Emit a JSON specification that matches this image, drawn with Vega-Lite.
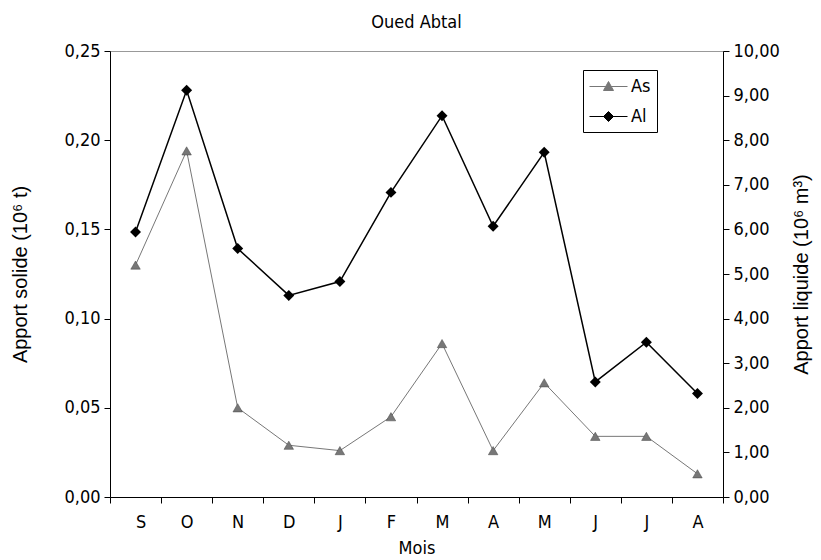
{
  "$schema": "https://vega.github.io/schema/vega-lite/v6.json",
  "width": 613,
  "height": 446,
  "autosize": {"type": "none"},
  "padding": {"left": 110, "top": 51, "right": 98, "bottom": 63},
  "background": "white",
  "title": {"text": "Oued Abtal", "fontSize": 18, "font": "Liberation Sans Narrow, DejaVu Sans Condensed, Roboto, sans-serif", "fontWeight": "normal", "color": "black", "offset": 10},
  "config": {
    "view": {"stroke": "#999", "strokeWidth": 1},
    "axis": {"domainColor": "black", "tickColor": "black", "labelColor": "black", "titleColor": "black", "grid": false, "labelFont": "Liberation Sans Narrow, DejaVu Sans Condensed, Roboto, sans-serif", "labelFontSize": 18, "titleFont": "Liberation Sans, Arial, sans-serif", "titleFontWeight": "normal", "titleFontSize": 20, "tickSize": 6, "domainWidth": 1}
  },
  "data": {"values": [
    {"i": 0, "mois": "S", "serie": "As", "v": 0.130},
    {"i": 1, "mois": "O", "serie": "As", "v": 0.194},
    {"i": 2, "mois": "N", "serie": "As", "v": 0.050},
    {"i": 3, "mois": "D", "serie": "As", "v": 0.029},
    {"i": 4, "mois": "J", "serie": "As", "v": 0.026},
    {"i": 5, "mois": "F", "serie": "As", "v": 0.045},
    {"i": 6, "mois": "M", "serie": "As", "v": 0.086},
    {"i": 7, "mois": "A", "serie": "As", "v": 0.026},
    {"i": 8, "mois": "M", "serie": "As", "v": 0.064},
    {"i": 9, "mois": "J", "serie": "As", "v": 0.034},
    {"i": 10, "mois": "J", "serie": "As", "v": 0.034},
    {"i": 11, "mois": "A", "serie": "As", "v": 0.013},
    {"i": 0, "mois": "S", "serie": "Al", "v": 5.94},
    {"i": 1, "mois": "O", "serie": "Al", "v": 9.12},
    {"i": 2, "mois": "N", "serie": "Al", "v": 5.57},
    {"i": 3, "mois": "D", "serie": "Al", "v": 4.52},
    {"i": 4, "mois": "J", "serie": "Al", "v": 4.83},
    {"i": 5, "mois": "F", "serie": "Al", "v": 6.83},
    {"i": 6, "mois": "M", "serie": "Al", "v": 8.55},
    {"i": 7, "mois": "A", "serie": "Al", "v": 6.07},
    {"i": 8, "mois": "M", "serie": "Al", "v": 7.73},
    {"i": 9, "mois": "J", "serie": "Al", "v": 2.58},
    {"i": 10, "mois": "J", "serie": "Al", "v": 3.47},
    {"i": 11, "mois": "A", "serie": "Al", "v": 2.32}
  ]},
  "layer": [
    {
      "transform": [{"filter": "datum.serie === 'As'"}],
      "encoding": {
        "x": {"field": "i", "type": "quantitative", "scale": {"domain": [-0.5, 11.5], "nice": false, "zero": false},
          "axis": {"title": "Mois", "titleFont": "Liberation Sans Narrow, DejaVu Sans Condensed, Roboto, sans-serif", "titleFontSize": 18, "values": [-0.5, 0.5, 1.5, 2.5, 3.5, 4.5, 5.5, 6.5, 7.5, 8.5, 9.5, 10.5, 11.5], "labelExpr": "['S','O','N','D','J','F','M','A','M','J','J','A',''][datum.value + 0.5]", "labelOffset": 25.5, "labelPadding": 10, "titlePadding": 8}},
        "y": {"field": "v", "type": "quantitative", "scale": {"domain": [0, 0.25], "nice": false},
          "axis": {"title": "Apport solide (10⁶ t)", "values": [0, 0.05, 0.1, 0.15, 0.2, 0.25], "labelExpr": "replace(format(datum.value, '.2f'), '.', ',')", "labelPadding": 4, "titlePadding": 33}},
        "color": {"field": "serie", "type": "nominal", "scale": {"domain": ["As", "Al"], "range": ["#777777", "#000000"]},
          "legend": {"title": null, "orient": "none", "legendX": 473, "legendY": 19, "strokeColor": "black", "fillColor": "white", "padding": 6, "labelFontSize": 18, "labelFont": "Liberation Sans Narrow, DejaVu Sans Condensed, Roboto, sans-serif", "labelColor": "black", "symbolSize": 400, "symbolStrokeWidth": 1, "rowPadding": 10, "labelOffset": 21,
            "encode": {"symbols": {"update": {"shape": {"signal": "datum.value === 'As' ? 'M-1,0H2.8M0.9,-0.5L1.4,0.4H0.4Z' : 'M-1,0H2.8M0.9,-0.5L1.4,0L0.9,0.5L0.4,0Z'"}, "size": {"value": 400}, "strokeWidth": {"value": 1}}}}}}
      },
      "layer": [
        {"mark": {"type": "line", "strokeWidth": 1}},
        {"mark": {"type": "point", "filled": true, "size": 90, "opacity": 1, "shape": "triangle-up", "stroke": "#444", "strokeWidth": 0.5}}
      ]
    },
    {
      "transform": [{"filter": "datum.serie === 'Al'"}],
      "encoding": {
        "x": {"field": "i", "type": "quantitative", "scale": {"domain": [-0.5, 11.5], "nice": false, "zero": false}},
        "y": {"field": "v", "type": "quantitative", "scale": {"domain": [0, 10], "nice": false},
          "axis": {"orient": "right", "title": "Apport liquide (10⁶ m³)", "titleAngle": 270, "values": [0, 1, 2, 3, 4, 5, 6, 7, 8, 9, 10], "labelExpr": "replace(format(datum.value, '.2f'), '.', ',')", "labelPadding": 4, "titlePadding": 32}},
        "color": {"field": "serie", "type": "nominal"}
      },
      "layer": [
        {"mark": {"type": "line", "strokeWidth": 1.5}},
        {"mark": {"type": "point", "filled": true, "size": 120, "opacity": 1, "shape": "diamond"}}
      ]
    }
  ],
  "resolve": {"scale": {"y": "independent"}}
}
